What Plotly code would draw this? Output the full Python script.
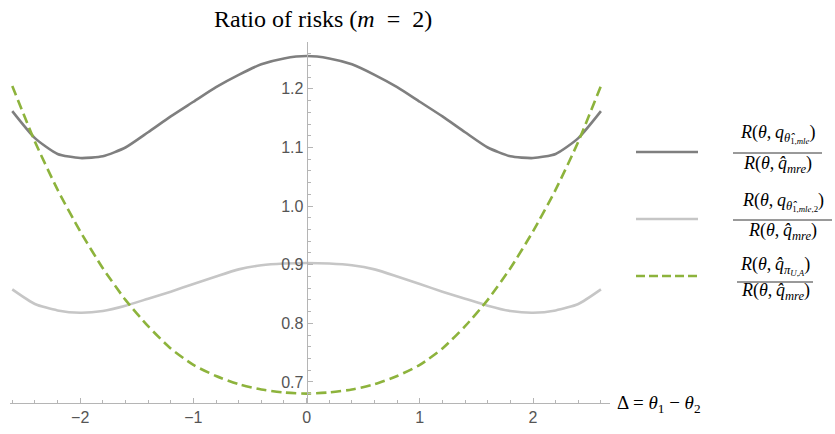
import plotly.graph_objects as go

# ---- data ----
delta = [-2.6, -2.4, -2.2, -2.0, -1.8, -1.6, -1.4, -1.2, -1.0, -0.8, -0.6, -0.4, -0.2, 0.0,
         0.2, 0.4, 0.6, 0.8, 1.0, 1.2, 1.4, 1.6, 1.8, 2.0, 2.2, 2.4, 2.6]
ratio_mle = [1.162, 1.116, 1.089, 1.082, 1.085, 1.100, 1.126, 1.153, 1.178, 1.203, 1.224, 1.242, 1.252, 1.256,
             1.252, 1.242, 1.224, 1.203, 1.178, 1.153, 1.126, 1.100, 1.085, 1.082, 1.089, 1.116, 1.162]
ratio_mle2 = [0.858, 0.833, 0.822, 0.818, 0.821, 0.830, 0.842, 0.854, 0.867, 0.880, 0.892, 0.899, 0.902, 0.903,
              0.902, 0.899, 0.892, 0.880, 0.867, 0.854, 0.842, 0.830, 0.821, 0.818, 0.822, 0.833, 0.858]
ratio_piUA = [1.205, 1.110, 1.028, 0.957, 0.894, 0.840, 0.795, 0.757, 0.729, 0.710, 0.696, 0.687, 0.682, 0.680,
              0.682, 0.687, 0.696, 0.710, 0.729, 0.757, 0.795, 0.840, 0.894, 0.957, 1.028, 1.110, 1.205]
x_ticks = [-2, -1, 0, 1, 2]
y_ticks = [0.7, 0.8, 0.9, 1.0, 1.1, 1.2]
y_ticktext = ["0.7", "0.8", "0.9", "1.0", "1.1", "1.2"]

DARK = "#7f7f7f"
LIGHT = "#c6c6c6"
GREEN = "#8db33c"
AXIS = "#b5b5b5"
SERIF = "Liberation Serif, Times New Roman, serif"
SANS = "Liberation Sans, Arial, sans-serif"

W, H = 835, 434
L, R, T, B = 10, 225, 42, 31
XR = [-2.62, 2.68]
YR = [0.664, 1.28]

def px_x(p):
    return (p - L) / (W - L - R)

def px_y(p):
    return (H - B - p) / (H - T - B)

fig = go.Figure()
fig.add_trace(go.Scatter(x=delta, y=ratio_mle, mode="lines",
                         line=dict(color=DARK, width=2.6, shape="spline", smoothing=0.6), showlegend=False))
fig.add_trace(go.Scatter(x=delta, y=ratio_mle2, mode="lines",
                         line=dict(color=LIGHT, width=2.6, shape="spline", smoothing=0.6), showlegend=False))
fig.add_trace(go.Scatter(x=delta, y=ratio_piUA, mode="lines",
                         line=dict(color=GREEN, width=2.6, dash="10px,5px", shape="spline", smoothing=0.6),
                         showlegend=False))

y0_pos = (0 - XR[0]) / (XR[1] - XR[0])

fig.update_layout(
    width=W, height=H,
    margin=dict(l=L, r=R, t=T, b=B, autoexpand=False),
    paper_bgcolor="white", plot_bgcolor="white",
    xaxis=dict(range=XR, showgrid=False, zeroline=False, showline=True, linecolor=AXIS, linewidth=1,
               automargin=False,
               tickmode="array", tickvals=x_ticks, ticks="inside", ticklen=5, tickcolor=AXIS,
               minor=dict(dtick=0.2, tick0=0, ticks="inside", ticklen=3, tickcolor=AXIS),
               tickfont=dict(family=SANS, size=16, color="#555555")),
    yaxis=dict(range=YR, showgrid=False, zeroline=False, showline=True, linecolor=AXIS, linewidth=1,
               automargin=False, anchor="free", position=y0_pos, side="left",
               tickmode="array", tickvals=y_ticks, ticktext=y_ticktext,
               ticks="inside", ticklen=5, tickcolor=AXIS,
               minor=dict(dtick=0.02, tick0=0, ticks="inside", ticklen=3, tickcolor=AXIS),
               tickfont=dict(family=SANS, size=16, color="#555555")),
)

annots = []
shapes = []
# title
annots.append(dict(text="Ratio of risks (<i>m</i>\u2002=\u20022)", x=px_x(323), y=px_y(19), xref="paper", yref="paper",
                   xanchor="center", yanchor="middle", showarrow=False,
                   font=dict(family=SERIF, size=24, color="black")))
# axis label
annots.append(dict(text="Δ = <i>θ</i><sub>1</sub> − <i>θ</i><sub>2</sub>", x=px_x(615), y=px_y(404),
                   xref="paper", yref="paper", xanchor="left", yanchor="middle", showarrow=False,
                   font=dict(family=SERIF, size=19, color="black")))

denom = "<i>R</i>(<i>θ</i>,\u2009<i>q\u0302</i><sub><i>mre</i></sub>)"
legend = [
    (DARK, "solid", 152, "<i>R</i>(<i>θ</i>,\u2009<i>q</i><sub><i>θ\u0302</i><sub>1,<i>mle</i></sub></sub>)", 134, 153, 733, 822, 164),
    (LIGHT, "solid", 219, "<i>R</i>(<i>θ</i>,\u2009<i>q</i><sub><i>θ\u0302</i><sub>1,<i>mle</i>,2</sub></sub>)", 202, 220, 733, 832, 231),
    (GREEN, "9px,4px", 276, "<i>R</i>(<i>θ</i>,\u2009<i>q\u0302</i><sub><i>π</i><sub><i>U</i>,<i>A</i></sub></sub>)", 266, 282, 737, 813, 291),
]
for color, dash, ly, num, ny, fy, fx0, fx1, dy in legend:
    shapes.append(dict(type="line", xref="paper", yref="paper", x0=px_x(636), x1=px_x(698),
                       y0=px_y(ly), y1=px_y(ly), line=dict(color=color, width=2.6, dash=dash)))
    shapes.append(dict(type="line", xref="paper", yref="paper", x0=px_x(fx0), x1=px_x(fx1),
                       y0=px_y(fy), y1=px_y(fy), line=dict(color="black", width=0.8)))
    annots.append(dict(text=num, x=px_x((fx0 + fx1) / 2), y=px_y(ny), xref="paper", yref="paper",
                       xanchor="center", yanchor="middle", showarrow=False,
                       font=dict(family=SERIF, size=18, color="black")))
    annots.append(dict(text=denom, x=px_x((fx0 + fx1) / 2), y=px_y(dy), xref="paper", yref="paper",
                       xanchor="center", yanchor="middle", showarrow=False,
                       font=dict(family=SERIF, size=18, color="black")))

fig.update_layout(annotations=annots, shapes=shapes)
fig.write_html("out.html", config={"displayModeBar": False},
               post_script="document.body.style.margin='0';document.body.style.overflow='hidden';")
